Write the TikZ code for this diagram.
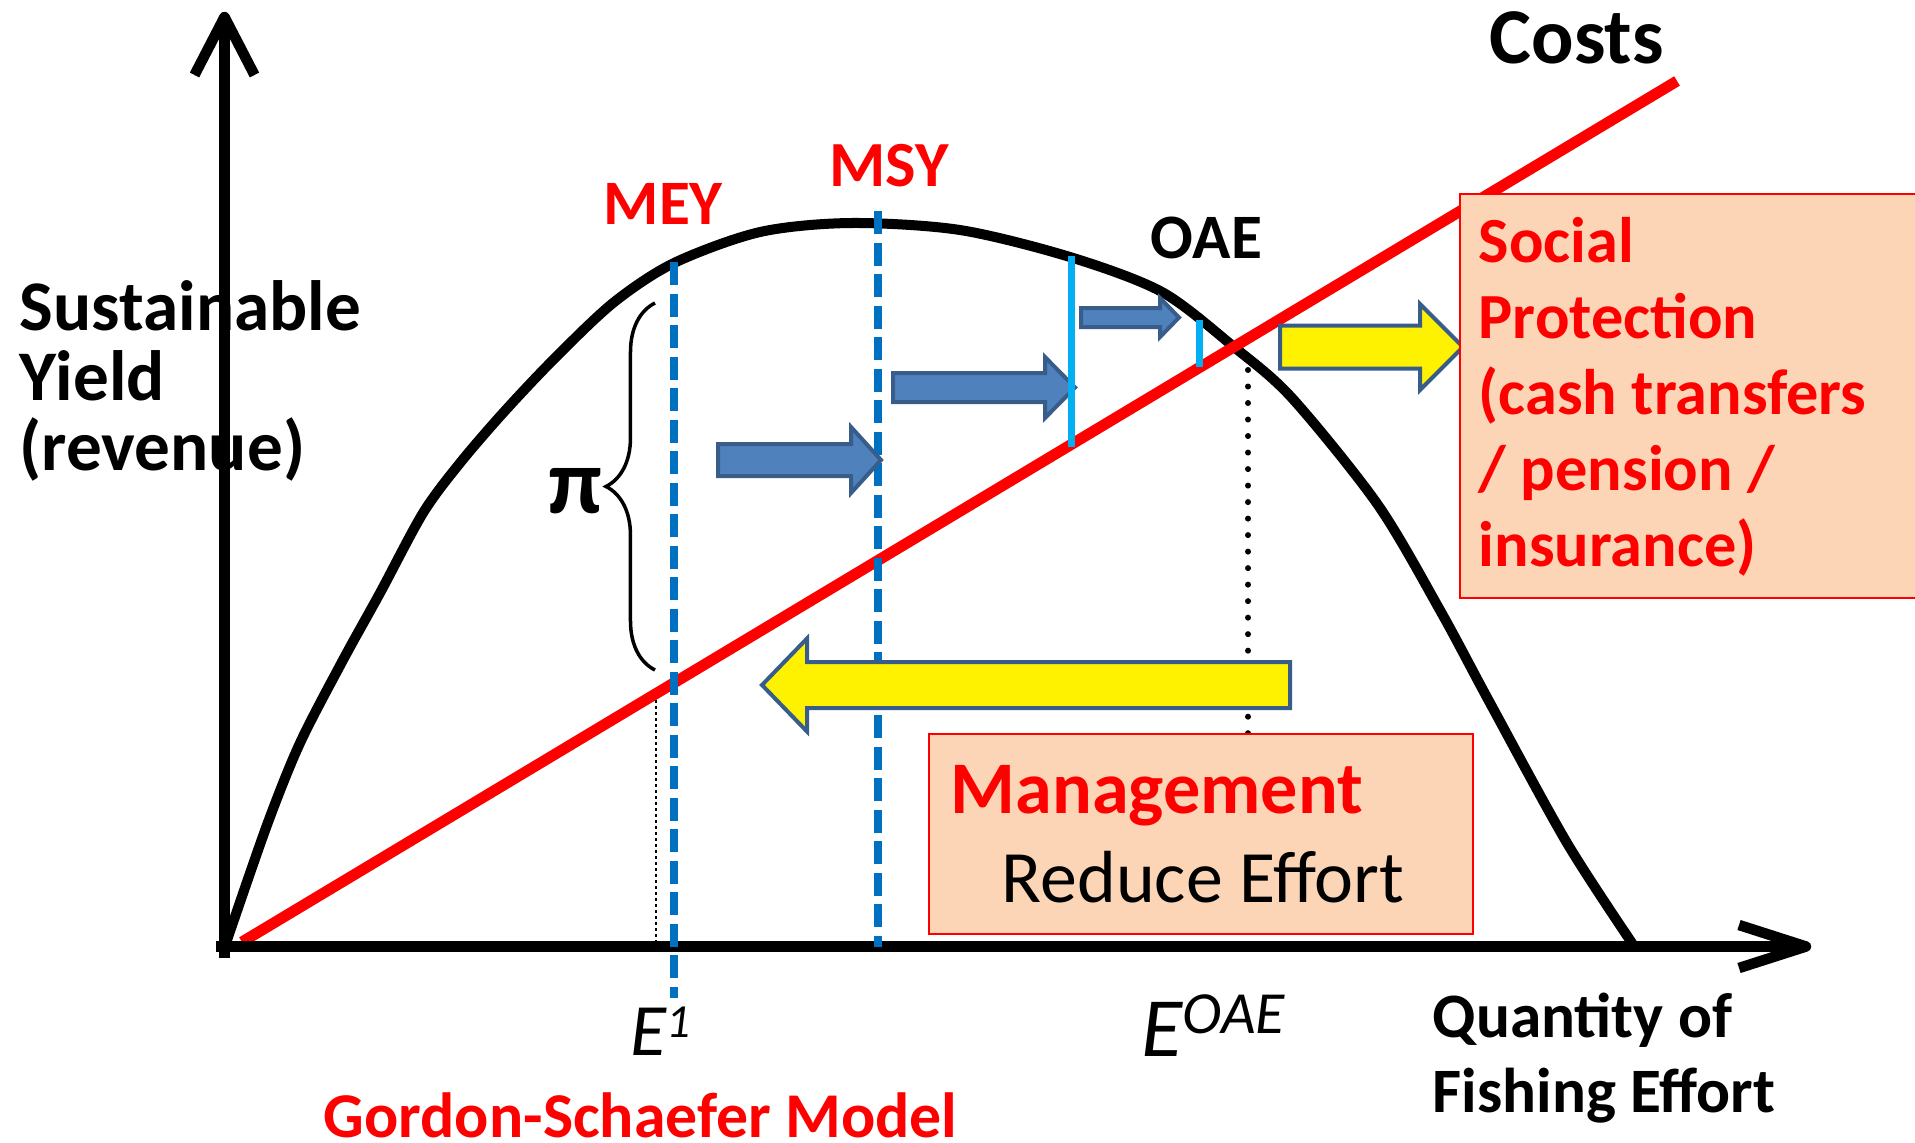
\documentclass[tikz,border=0pt]{standalone}
\usepackage{fontspec}
\setmainfont{Carlito}
\usepackage{tikz}
\usetikzlibrary{decorations.pathreplacing}

\definecolor{refblue}{HTML}{0070C0}
\definecolor{skyblue}{HTML}{00B0F0}
\definecolor{arrowblue}{HTML}{4F81BD}
\definecolor{arrowedge}{HTML}{385D8A}
\definecolor{peach}{HTML}{FBD5B5}

\tikzset{
    axisline/.style={line width=1.05mm, line join=round},
    refline/.style={line width=0.75mm, refblue, dash pattern=on 2.3mm off 0.85mm},
    shiftline/.style={line width=0.7mm, skyblue},
    bluearrow/.style={fill=arrowblue, draw=arrowedge, line width=0.4mm},
    yellowarrow/.style={fill=yellow, draw=arrowedge, line width=0.4mm},
    policybox/.style={fill=peach, draw=red, line width=0.2mm},
    lbl/.style={anchor=base west, inner sep=0pt},
    boldlbl/.style={lbl, font=\bfseries\fontsize{18}{19.9}\selectfont}
}

\begin{document}
\begin{tikzpicture}[x=0.01cm, y=-0.01cm]
        \useasboundingbox (0,0) rectangle (1915,1142);

        \node[boldlbl, align=left, font=\bfseries\fontsize{20.25}{19.9}\selectfont] (ylabel) at (19,470) {Sustainable\\Yield\\(revenue)};

        \draw[line width=0.2mm, dash pattern=on 0.3mm off 0.3mm] (656,700) -- (656,946);
        \draw[line width=0.6mm, line cap=round, dash pattern=on 0pt off 1.65mm] (1248,370) -- (1248,946);

        \draw[line width=1mm] plot[smooth] coordinates {(225,946) (267,825) (300,743) (343,660) (380,593) (423,513) (460,463) (503,413) (553,360) (613,303) (674,263) (760,232) (851,223) (960,230) (1070,257) (1162,292) (1234,347) (1292,398) (1378,505) (1441,612) (1490,703) (1567,843) (1634,946)};
        \draw[line width=1.1mm, red] (242,942) -- (1677,81);

        \draw[axisline] (216,946.5) -- (1806,946.5);
        \draw[axisline] (1739,925) -- (1806,946.5) -- (1739,968);
        \draw[axisline] (224.5,958) -- (224.5,17);
        \draw[axisline] (194.5,75) -- (224.5,17) -- (254.5,75);

        \draw[refline] (674,262) -- (674,998);
        \draw[refline] (878,211) -- (878,947);

        \foreach \xa/\xb/\xc/\yc/\sh/\hh in {718/881/851/460/16/33, 893/1075/1045/387.5/14.5/30.5, 1081/1179/1160/317.5/9.5/19.5} {
            \draw[bluearrow] (\xa,{\yc-\sh}) -- (\xc,{\yc-\sh}) -- (\xc,{\yc-\hh}) -- (\xb,\yc) -- (\xc,{\yc+\hh}) -- (\xc,{\yc+\sh}) -- (\xa,{\yc+\sh}) -- cycle;
        }
        \draw[shiftline] (1071,256) -- (1071,447);
        \draw[shiftline] (1199,320) -- (1199,367);

        \foreach \xa/\xb/\xc/\yc/\sh/\hh in {1280/1463/1420/347/21.5/43, 1290/762/807/685/23/46.5} {
            \draw[yellowarrow] (\xa,{\yc-\sh}) -- (\xc,{\yc-\sh}) -- (\xc,{\yc-\hh}) -- (\xb,\yc) -- (\xc,{\yc+\hh}) -- (\xc,{\yc+\sh}) -- (\xa,{\yc+\sh}) -- cycle;
        }

        \fill[peach] (1460,194) rectangle (1915,598);
        \draw[red, line width=0.2mm] (1915,194) -- (1460,194) -- (1460,598) -- (1915,598);
        \node[lbl, align=left, text=red, font=\bfseries\fontsize{18.3}{21.55}\selectfont] (social) at (1478,566) {Social\\Protection\\(cash transfers\\/ pension /\\insurance)};

        \draw[policybox] (929,734) rectangle (1473,934);
        \node[lbl, text=red, font=\bfseries\fontsize{21.1}{24}\selectfont] (mgmt) at (950,813) {Management};
        \node[lbl, font=\fontsize{21}{24}\selectfont] (reduce) at (1001,902) {Reduce Effort};

        \draw[decorate, decoration={brace, amplitude=4.9mm}, line width=0.35mm] (655,670) -- (655,303);
        \node[lbl, font=\bfseries\fontsize{26.5}{26}\selectfont] (profit) at (548,513) {π};

        \node[boldlbl, text=red] (mey) at (603,224) {MEY};
        \node[boldlbl, text=red, font=\bfseries\fontsize{18.3}{19}\selectfont] (msy) at (829,186) {MSY};
        \node[boldlbl] (oae) at (1150,258) {OAE};
        \node[boldlbl, font=\bfseries\fontsize{22.5}{22}\selectfont] (costs) at (1489,63) {Costs};

        \node[lbl, font=\itshape\fontsize{21}{21}\selectfont] (eone) at (630,1055) {E\raisebox{5.1pt}{\fontsize{13.5}{13.5}\selectfont 1}};
        \node[lbl, font=\itshape\fontsize{24}{24}\selectfont] (eoae) at (1141,1056) {E\raisebox{6.3pt}{\fontsize{17}{17}\selectfont OAE}};
        \node[boldlbl, align=left, font=\bfseries\fontsize{18}{21.3}\selectfont] (xlabel) at (1432,1112) {Quantity of\\Fishing Effort};
        \node[boldlbl, text=red, font=\bfseries\fontsize{18.15}{20}\selectfont] (model) at (323,1137) {Gordon-Schaefer Model};
    \end{tikzpicture}
\end{document}
